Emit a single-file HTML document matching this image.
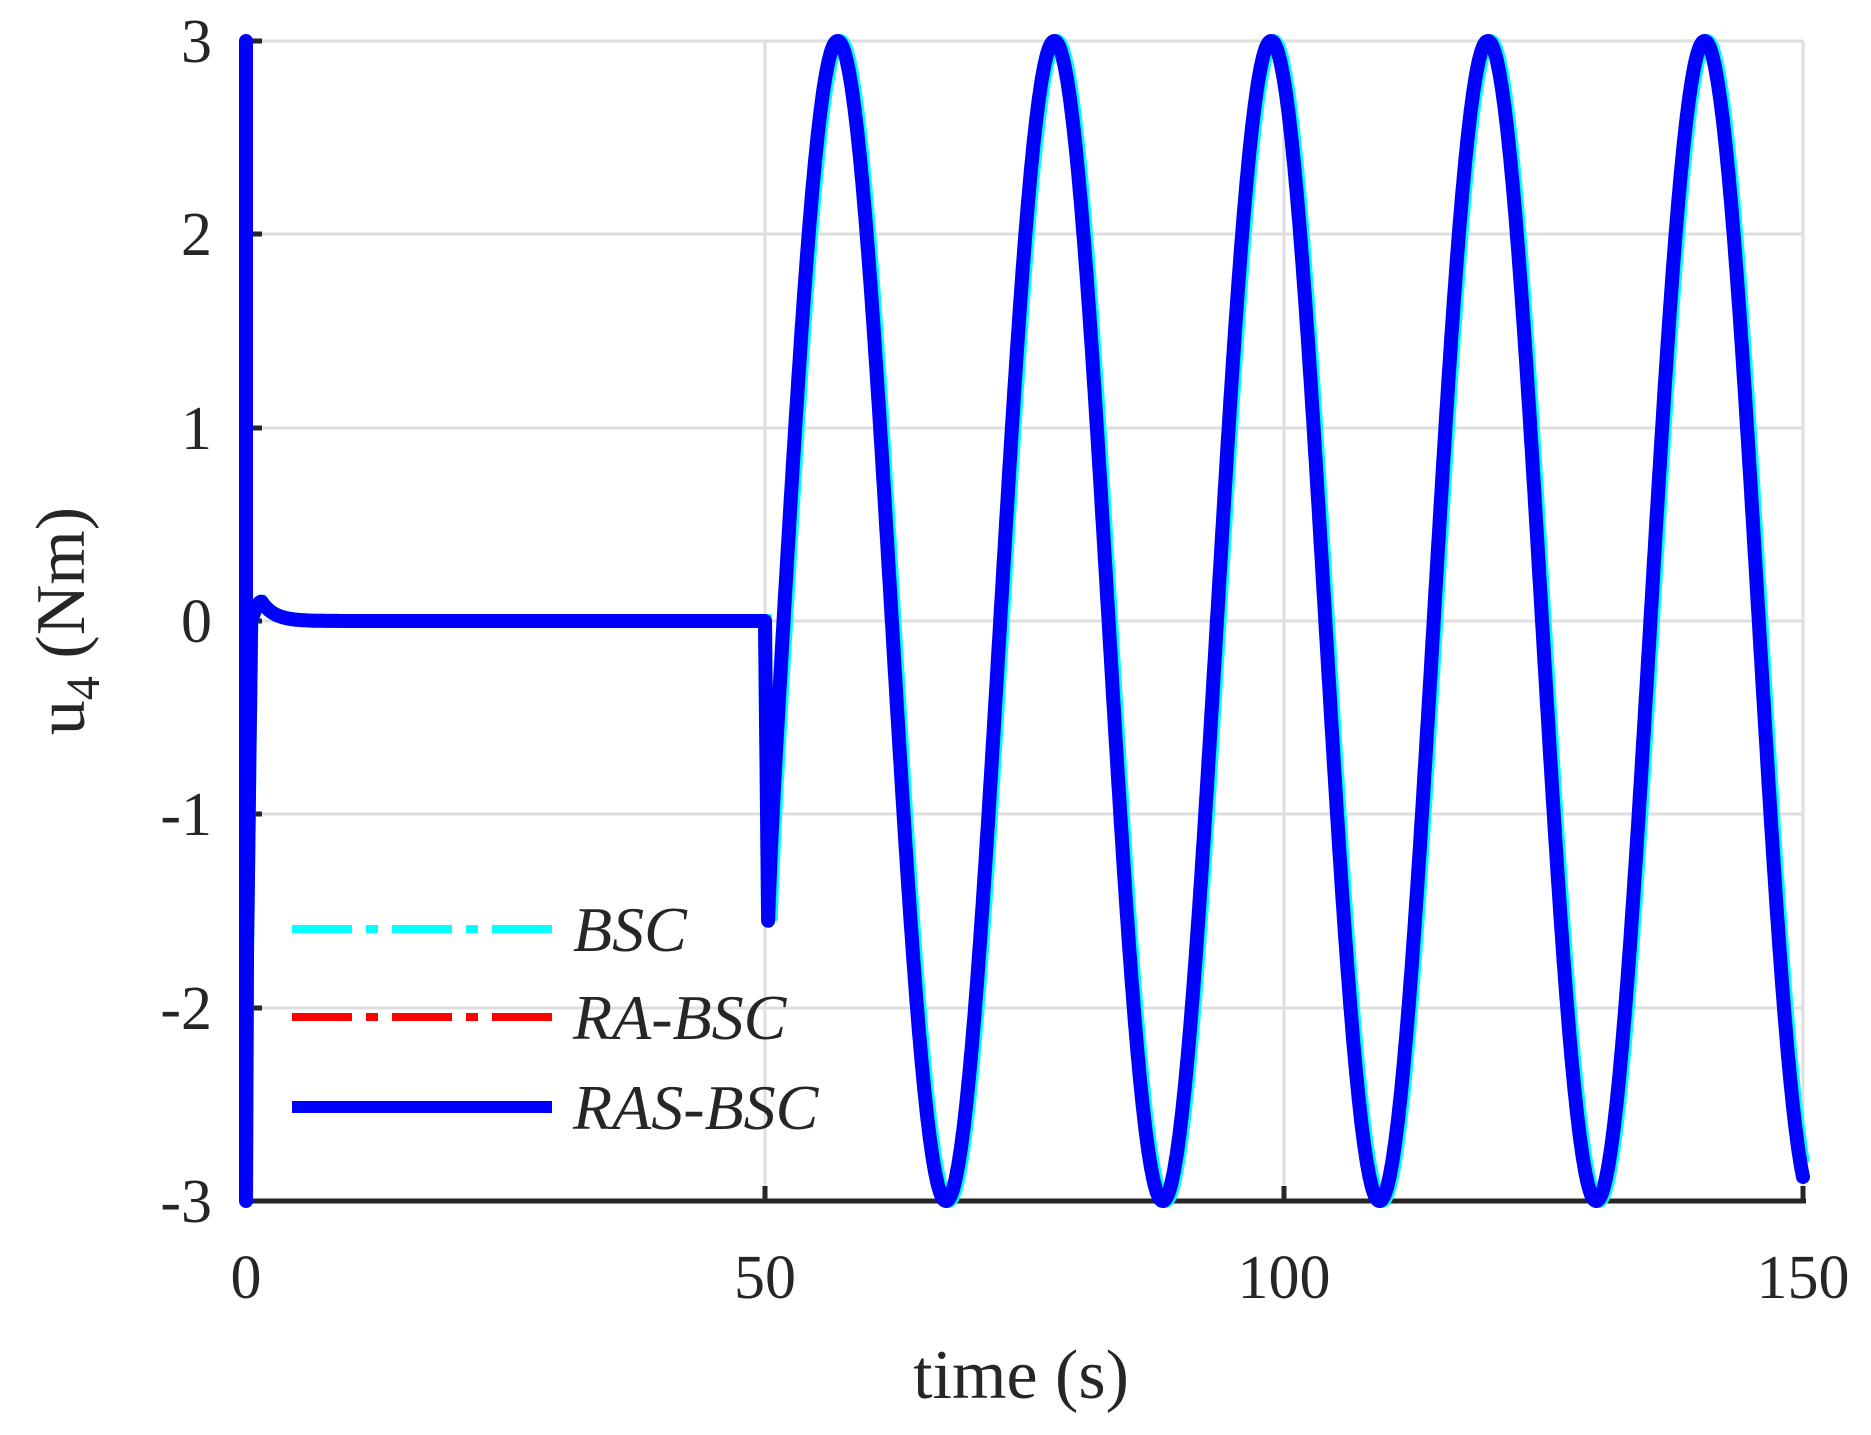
<!DOCTYPE html>
<html><head><meta charset="utf-8"><style>body{margin:0;background:#fff}svg{display:block}</style></head>
<body>
<svg id="s" width="1871" height="1435" xmlns="http://www.w3.org/2000/svg" font-family="Liberation Serif, serif" fill="#262626">
<rect width="1871" height="1435" fill="#fff"/>
<g stroke="#dedede" stroke-width="3">
<line x1="765" y1="41" x2="765" y2="1201"/><line x1="1284" y1="41" x2="1284" y2="1201"/><line x1="1803" y1="41" x2="1803" y2="1201"/>
<line x1="246" y1="41" x2="1803" y2="41"/><line x1="246" y1="234" x2="1803" y2="234"/><line x1="246" y1="428" x2="1803" y2="428"/><line x1="246" y1="621" x2="1803" y2="621"/><line x1="246" y1="814" x2="1803" y2="814"/><line x1="246" y1="1008" x2="1803" y2="1008"/>
</g>
<g stroke="#262626" stroke-width="5" fill="none">
<line x1="244" y1="1201" x2="1806" y2="1201"/><line x1="246" y1="41" x2="246" y2="1203"/>
<line x1="765" y1="1201" x2="765" y2="1186"/><line x1="1284" y1="1201" x2="1284" y2="1186"/><line x1="1803" y1="1201" x2="1803" y2="1186"/>
<line x1="246" y1="41" x2="262" y2="41"/><line x1="246" y1="234" x2="262" y2="234"/><line x1="246" y1="428" x2="262" y2="428"/><line x1="246" y1="621" x2="262" y2="621"/><line x1="246" y1="814" x2="262" y2="814"/><line x1="246" y1="1008" x2="262" y2="1008"/>
</g>
<path id="cy" fill="none" stroke="#00ffff" stroke-width="14"/>
<path id="bl" fill="none" stroke="#0000ff" stroke-width="14" stroke-linejoin="round" stroke-linecap="round"/>
<g font-size="62" text-anchor="end">
<text x="212" y="62">3</text><text x="212" y="255">2</text><text x="212" y="449">1</text><text x="212" y="642">0</text><text x="212" y="835">-1</text><text x="212" y="1029">-2</text><text x="212" y="1222">-3</text>
</g>
<g font-size="62" text-anchor="middle">
<text x="246" y="1298">0</text><text x="765" y="1298">50</text><text x="1284" y="1298">100</text><text x="1803" y="1298">150</text>
</g>
<text x="1021" y="1398" font-size="70" text-anchor="middle">time (s)</text>
<text transform="translate(84,621) rotate(-90)" font-size="70" text-anchor="middle">u<tspan font-size="48" dy="15">4</tspan><tspan dy="-15"> (Nm)</tspan></text>
<line x1="292" y1="929" x2="552" y2="929" stroke="#00ffff" stroke-width="8" stroke-dasharray="60,14,12,14"/>
<line x1="292" y1="1017" x2="552" y2="1017" stroke="#ff0000" stroke-width="8" stroke-dasharray="60,14,12,14"/>
<line x1="292" y1="1107" x2="552" y2="1107" stroke="#0000ff" stroke-width="12"/>
<g font-size="64" font-style="italic">
<text x="573" y="951">BSC</text><text x="573" y="1039">RA-BSC</text><text x="573" y="1129">RAS-BSC</text>
</g>
</svg>
<script>
function X(t){return 246+t*1557/150}function Y(v){return 621-v*193.33}
function S(t){return 3*Math.cos(2*Math.PI*(t-57)/20.88);}
function f(t){
 if(t<0.5){ return -1.7+(t-0.1)/0.4*1.7;}
 if(t<50){ if(t<1.5) return 0.1*Math.sin((t-0.5)*Math.PI/2); return 0.1*Math.exp(-(t-1.5)*0.8);}
 if(t<50.3)return -1.55*(t-50)/0.3;
 var s=S(t); return s+(-1.55-S(50.3))*Math.exp(-(t-50.3)/0.35);}
function path(off){var d="M"+X(0)+","+Y(3)+" L"+X(0)+","+Y(-3)+" L"+X(0.1)+","+Y(-1.7);
 for(var t=0.1;t<=150;t+=0.05){var tt=t>50.5?t-off:t;d+=" L"+X(t).toFixed(1)+","+Y(f(Math.max(tt,0.1))).toFixed(1);}return d;}
document.getElementById("bl").setAttribute("d",path(0));
document.getElementById("cy").setAttribute("d",path(0.25));
</script>
</body></html>
